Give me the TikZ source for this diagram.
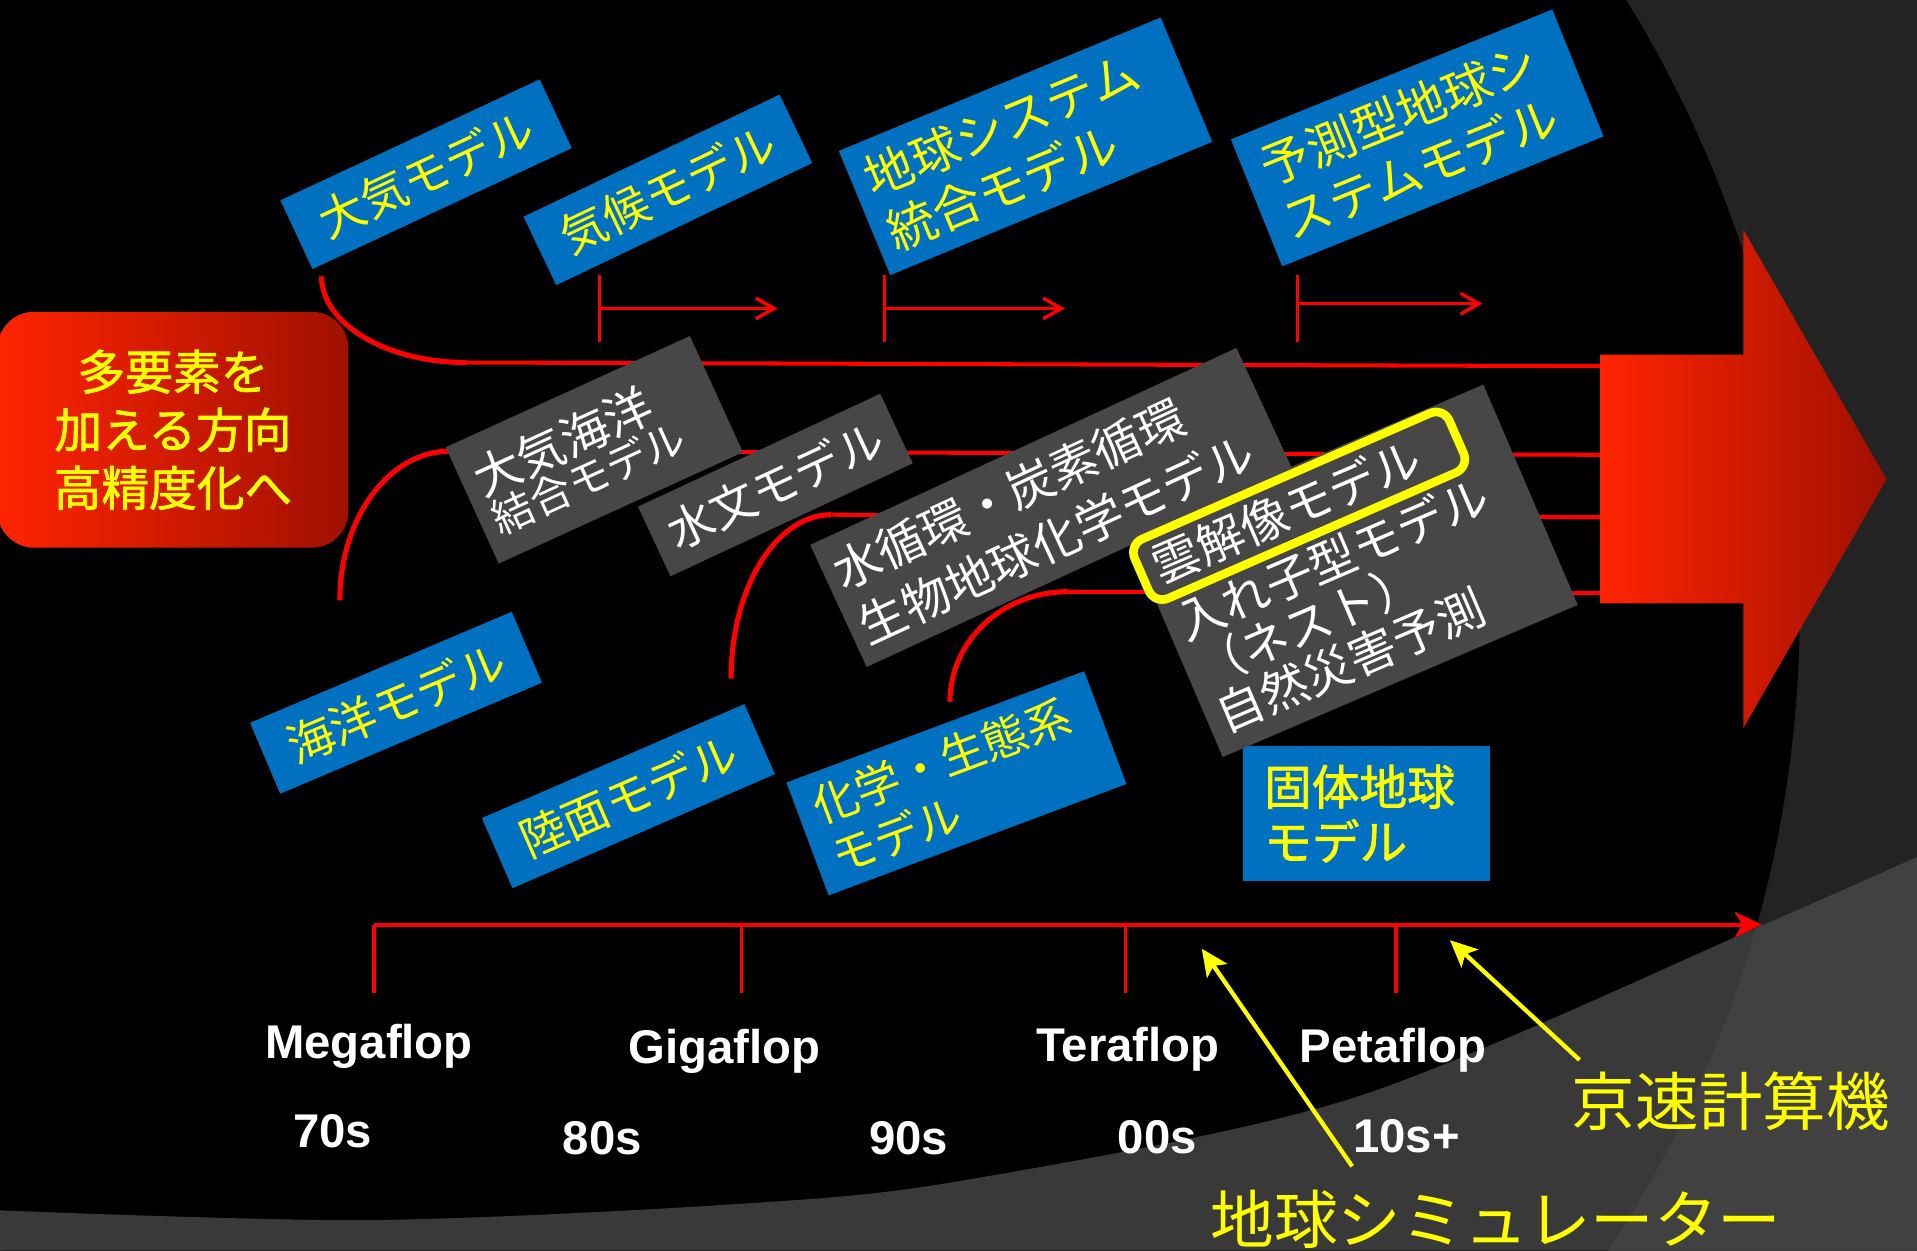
\documentclass[tikz,border=0pt]{standalone}
\usepackage{fontspec}
\newfontfamily\jp{Noto Sans CJK JP}
\newfontfamily\jpb{Noto Sans CJK JP}[FakeBold=1.5]
\newfontfamily\lat{Liberation Sans}
\usetikzlibrary{arrows.meta}
\newcommand\myfs[2]{\fontsize{#1}{#2}\selectfont}
\definecolor{myblue}{HTML}{0070C0}
\definecolor{mygray}{HTML}{474747}
\definecolor{myyellow}{HTML}{FFFF00}
\definecolor{myred}{HTML}{FF0000}
\definecolor{bgdark}{HTML}{232323}
\definecolor{bgmid}{HTML}{393939}
\definecolor{bglight}{HTML}{414141}
\definecolor{arrL}{HTML}{FF2400}
\definecolor{arrM}{HTML}{E01E00}
\definecolor{arrR}{HTML}{A01000}
\begin{document}
\begin{tikzpicture}[x=1pt,y=-1pt,
  box/.style={inner sep=0pt,outer sep=0pt},
  bluebox/.style={box,fill=myblue,text=myyellow},
  graybox/.style={box,fill=mygray,text=white},
  redline/.style={draw=myred,line width=3.3pt},
  redarc/.style={draw=myred,line width=4.2pt},
  redtick/.style={draw=myred,line width=2.8pt},
  chev/.style={draw=myred,line width=2.8pt,-{Straight Barb[length=15pt,width=17pt]}},
  flop/.style={anchor=base,text=white,font=\lat\bfseries\myfs{38.7}{44}},
  ylabel/.style={text=myyellow,font=\jp\myfs{52}{60}},
  yarrow/.style={draw=myyellow,line width=3.5pt,-{Stealth[length=22pt,width=20pt,inset=5pt]}},
]
\useasboundingbox (0,0) rectangle (1568,1023);
\clip (0,0) rectangle (1568,1023);
% ---------- background ----------
\fill[bgdark] (0,0) rectangle (1568,1023);
\fill[black] (521,500) circle[radius=951];
\fill[bgmid] plot[smooth] coordinates {(0,990) (300,998) (600,985) (785,966) (1107,898) (1441,757) (1568,701)} -- (1568,1023) -- (0,1023) -- cycle;
\begin{scope}
\clip plot[smooth] coordinates {(0,990) (300,998) (600,985) (785,966) (1107,898) (1441,757) (1568,701)} -- (1568,1023) -- (0,1023) -- cycle;
\fill[bglight,even odd rule] (0,0) rectangle (1568,1023) (521,500) circle[radius=951];
\end{scope}
% ---------- coordinates ----------
\coordinate (a1s) at (263,226);   \coordinate (a1e) at (381,296.5); \coordinate (e1) at (1309,299.5);
\coordinate (a2s) at (278,491);   \coordinate (a2e) at (368,369);   \coordinate (e2) at (1309,372);
\coordinate (a3s) at (598,555);   \coordinate (a3e) at (680,421);   \coordinate (e3) at (1309,423);
\coordinate (a4s) at (777,574);   \coordinate (a4e) at (873,484);   \coordinate (e4) at (1309,485);
% ---------- red lines ----------
\draw[redarc] (a1s) .. controls (263,264.7) and (315.8,296.5) .. (a1e);
\draw[redline] (a1e) -- (e1);
\draw[redarc] (a2s) .. controls (278,423.6) and (318.3,369) .. (a2e);
\draw[redline] (a2e) -- (e2);
\draw[redarc] (a3s) .. controls (598,481) and (634.7,421) .. (a3e);
\draw[redline] (a3e) -- (e3);
\draw[redarc] (a4s) .. controls (777,524.3) and (820,484) .. (a4e);
\draw[redline] (a4e) -- (e4);
% top tick arrows
\coordinate (t1a) at (490.5,225); \coordinate (t1b) at (490.5,280);
\coordinate (t1s) at (490.5,252.3); \coordinate (t1e) at (636,252.3);
\coordinate (t2a) at (723.5,225); \coordinate (t2b) at (723.5,280);
\coordinate (t2s) at (723.5,252.3); \coordinate (t2e) at (871,252.3);
\coordinate (t3a) at (1061.5,225); \coordinate (t3b) at (1061.5,280);
\coordinate (t3s) at (1061.5,248.4); \coordinate (t3e) at (1212.5,248.4);
\draw[redtick] (t1a) -- (t1b); \draw[chev] (t1s) -- (t1e);
\draw[redtick] (t2a) -- (t2b); \draw[chev] (t2s) -- (t2e);
\draw[redtick] (t3a) -- (t3b); \draw[chev] (t3s) -- (t3e);
% timeline
\coordinate (tl0) at (305.5,756.3); \coordinate (tlend) at (1441,756.3);
\draw[draw=myred,line width=3.4pt,-{Stealth[length=22pt,width=21pt,inset=6pt]}] (tl0) -- (tlend);
\foreach \x/\n in {306/k1,606.6/k2,920.7/k3,1141.9/k4}{
  \coordinate (\n a) at (\x,756.3); \coordinate (\n b) at (\x,812);
  \draw[draw=myred,line width=3pt] (\n a) -- (\n b);
}
% ---------- big arrow ----------
\shade[left color=arrL,middle color=arrM,right color=arrR]
  (1309,290) -- (1426,290) -- (1426,188) -- (1543,392) -- (1426,595.5) -- (1426,493.5) -- (1309,493.5) -- cycle;
% ---------- red goal box ----------
\node[rounded corners=30pt,left color=arrL,middle color=arrM,right color=arrR,
  minimum width=287pt,minimum height=193pt,inner sep=0pt,align=center,
  text=myyellow,font=\jpb\myfs{39}{47.5}] (goal) at (141.5,351.5) {多要素を\\加える方向\\高精度化へ};
% ---------- blue boxes ----------
\node[bluebox,rotate=25,minimum width=234pt,minimum height=62pt,font=\jp\myfs{38}{46}] (atm) at (348.5,142.5) {大気モデル};
\node[bluebox,rotate=25.5,minimum width=232pt,minimum height=62pt,font=\jp\myfs{38}{46}] (clim) at (546.3,155.3) {気候モデル};
\node[bluebox,rotate=22.5,minimum width=285pt,minimum height=110pt,text width=261pt,inner xsep=12pt,align=left,font=\jp\myfs{40}{48}] (esm) at (838.8,119.7) {地球システム\\統合モデル};
\node[bluebox,rotate=22,minimum width=283.5pt,minimum height=112pt,text width=253.5pt,inner xsep=15pt,align=left,font=\jp\myfs{40}{48}] (pred) at (1159.2,112.8) {予測型地球シ\\ステムモデル};
\node[bluebox,rotate=23,minimum width=232.5pt,minimum height=63pt,font=\jp\myfs{38}{46}] (ocean) at (323.9,574.8) {海洋モデル};
\node[bluebox,rotate=23.5,minimum width=234pt,minimum height=62.5pt,font=\jp\myfs{38}{46}] (land) at (514,651.2) {陸面モデル};
\node[bluebox,rotate=20.5,minimum width=260pt,minimum height=98.5pt,text width=232pt,inner xsep=14pt,align=left,font=\jp\myfs{37}{44}] (chem) at (782.3,640.7) {化学・生態系\\モデル};
\node[bluebox,minimum width=202pt,minimum height=111pt,text width=168pt,inner xsep=17pt,align=left,font=\jpb\myfs{39}{45}] (solid) at (1118,665.5) {固体地球\\モデル};
% ---------- gray boxes ----------
\node[graybox,rotate=24.5,minimum width=219.5pt,minimum height=104.5pt,text width=197.5pt,inner xsep=11pt,align=left,font=\jp] (aoc) at (486.1,367.9) {\myfs{39}{47}大気海洋\\\myfs{34}{47}結合モデル};
\node[graybox,rotate=25,minimum width=218.6pt,minimum height=62.8pt,font=\jp\myfs{38}{46}] (hyd) at (634.2,396.7) {水文モデル};
\node[graybox,rotate=24.8,minimum width=384pt,minimum height=110pt,text width=366pt,inner xsep=9pt,align=left,font=\jp\myfs{39}{50}] (bgc) at (860.1,415.1) {水循環・炭素循環\\生物地球化学モデル};
\node[graybox,rotate=23.2,minimum width=316pt,minimum height=196pt,text width=296pt,inner xsep=10pt,align=left,font=\jp\myfs{39}{41}] (nest) at (1106.7,466.9) {雲解像モデル\\[10pt]入れ子型モデル\\（ネスト）\\自然災害予測};
\node[draw=myyellow,line width=7pt,rounded corners=12pt,rotate=23.6,minimum width=281pt,minimum height=53pt,inner sep=0pt] (cloud) at (1062.6,413.7) {};
% ---------- labels ----------
\node[flop] (mega) at (301.8,866) {Megaflop};
\node[flop] (giga) at (592.8,869.5) {Gigaflop};
\node[flop] (tera) at (922.6,868.3) {Teraflop};
\node[flop] (peta) at (1139.3,869.3) {Petaflop};
\node[flop] (d70) at (272.2,938.3) {70s};
\node[flop] (d80) at (492.6,944) {80s};
\node[flop] (d90) at (743.3,944) {90s};
\node[flop] (d00) at (946.7,943.3) {00s};
\node[flop] (d10) at (1150.5,943) {10s+};
\node[ylabel] (kei) at (1415.7,900.5) {京速計算機};
\node[ylabel] (es) at (1223.7,997.5) {地球シミュレーター};
% ---------- yellow arrows ----------
\coordinate (esa) at (1106,954); \coordinate (esb) at (983,776);
\coordinate (kea) at (1292,867); \coordinate (keb) at (1186,769);
\draw[yarrow] (esa) -- (esb);
\draw[yarrow] (kea) -- (keb);
\end{tikzpicture}
\end{document}
